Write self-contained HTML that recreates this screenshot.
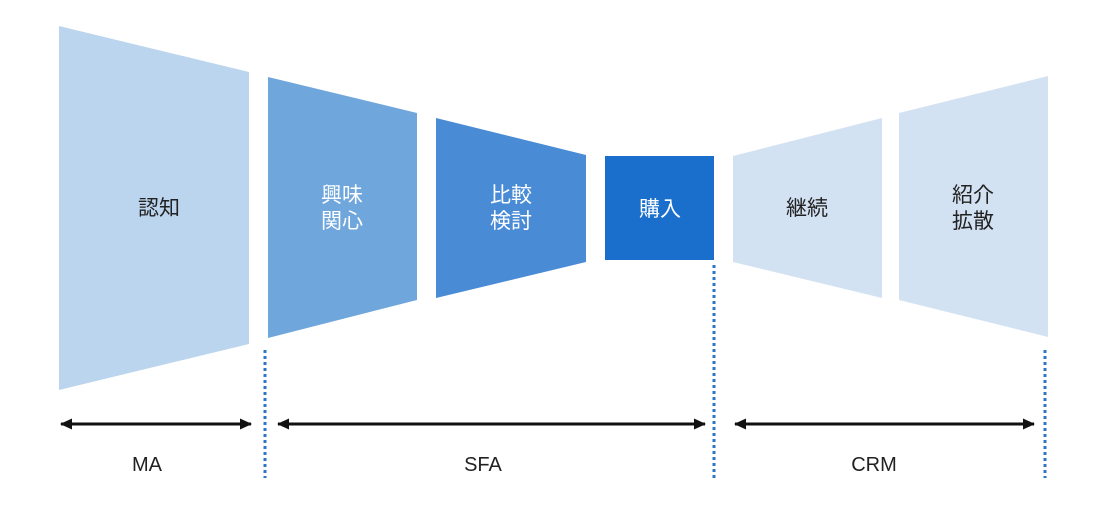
<!DOCTYPE html>
<html><head><meta charset="utf-8"><style>
html,body{margin:0;padding:0;background:#fff;}
svg{display:block;}
text{font-family:"Liberation Sans","Noto Sans CJK JP",sans-serif;}
</style></head><body>
<svg width="1108" height="505" viewBox="0 0 1108 505" xmlns="http://www.w3.org/2000/svg">
<defs>
<marker id="a" markerWidth="12" markerHeight="11" refX="11" refY="5.5" orient="auto-start-reverse" markerUnits="userSpaceOnUse">
<path d="M0,0 L12,5.5 L0,11 z" fill="#111"/></marker>
</defs>
<polygon points="59,26 249,72 249,344 59,390" fill="#bcd5ee"/>
<polygon points="268,77 417,113 417,300 268,338" fill="#6fa6dc"/>
<polygon points="436,118 586,155 586,262 436,298" fill="#4a8bd6"/>
<rect x="605" y="156" width="109" height="104" fill="#1a6fcc"/>
<polygon points="733,156 882,118 882,298 733,262" fill="#d3e2f3"/>
<polygon points="899,113 1048,76 1048,337 899,300" fill="#d3e2f3"/>
<g font-size="21" text-anchor="middle">
<text x="159" y="215" fill="#222">認知</text>
<text x="342" y="202" fill="#fff">興味</text>
<text x="342" y="228" fill="#fff">関心</text>
<text x="511" y="202" fill="#fff">比較</text>
<text x="511" y="228" fill="#fff">検討</text>
<text x="660" y="216" fill="#fff">購入</text>
<text x="807" y="215" fill="#222">継続</text>
<text x="973" y="202" fill="#222">紹介</text>
<text x="973" y="228" fill="#222">拡散</text>
</g>
<g stroke="#2e75c8" stroke-width="3" stroke-dasharray="3,3">
<line x1="265" y1="350" x2="265" y2="478"/>
<line x1="714" y1="265" x2="714" y2="478"/>
<line x1="1045" y1="350" x2="1045" y2="478"/>
</g>
<g stroke="#111" stroke-width="3">
<line x1="61" y1="424" x2="251" y2="424" marker-start="url(#a)" marker-end="url(#a)"/>
<line x1="278" y1="424" x2="705" y2="424" marker-start="url(#a)" marker-end="url(#a)"/>
<line x1="735" y1="424" x2="1034" y2="424" marker-start="url(#a)" marker-end="url(#a)"/>
</g>
<g font-size="20" fill="#222" text-anchor="middle">
<text x="147" y="471">MA</text>
<text x="483" y="471">SFA</text>
<text x="874" y="471">CRM</text>
</g>
</svg>
</body></html>
